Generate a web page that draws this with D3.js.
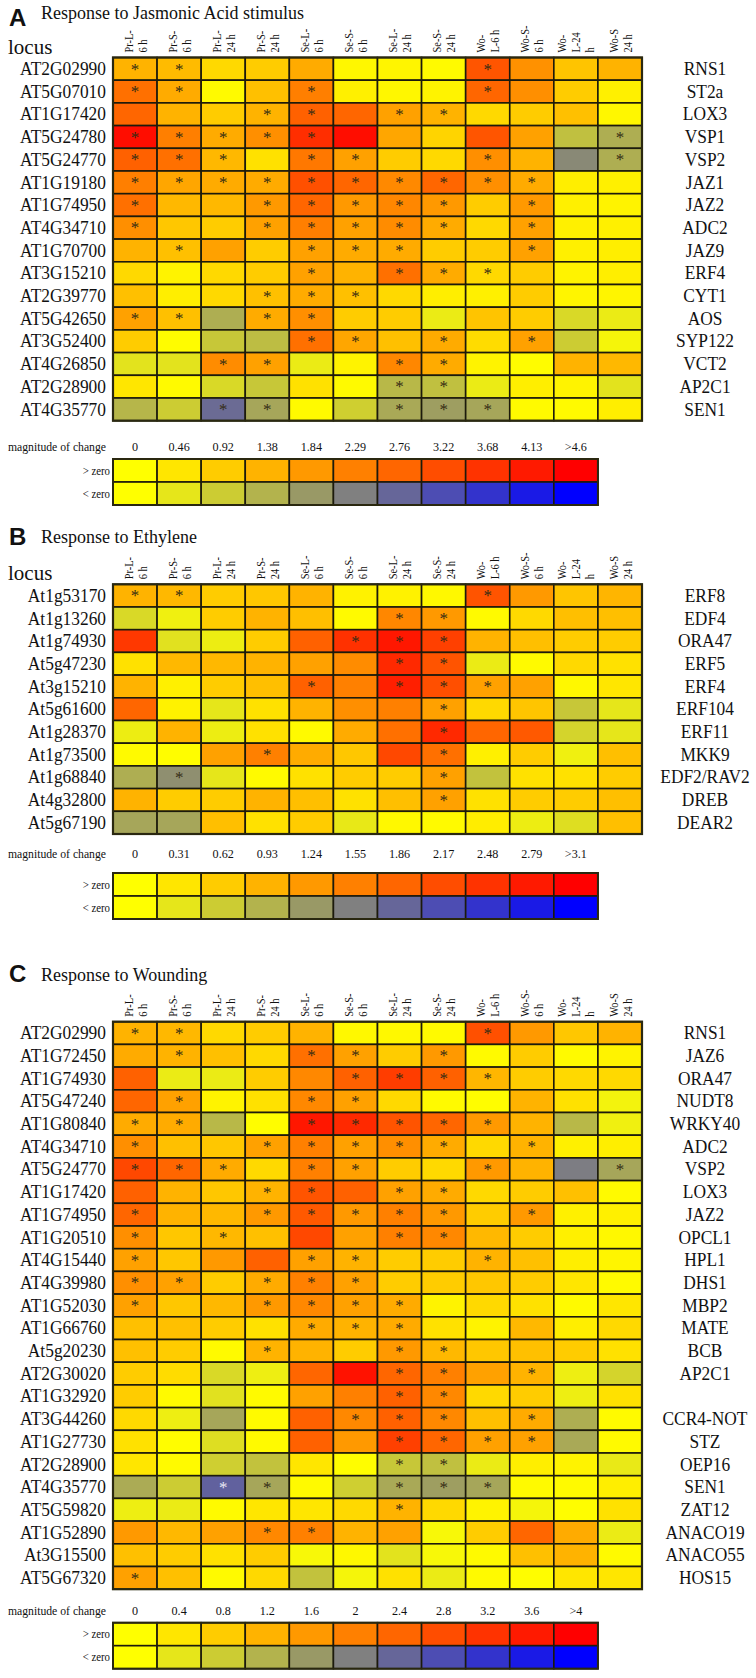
<!DOCTYPE html>
<html><head><meta charset="utf-8">
<script src="https://cdn.jsdelivr.net/npm/d3@7"></script>
<style>
body{margin:0;background:#fff}
svg{display:block}
text{font-family:"Liberation Serif","Times New Roman",serif;fill:#111}
</style>
</head><body>
<svg id="chart" width="756" height="1678"></svg>
<script>
// ---------- shared ----------
const conditions = ["Pr-L-|6 h","Pr-S-|6 h","Pr-L-|24 h","Pr-S-|24 h","Se-L-|6 h","Se-S-|6 h","Se-L-|24 h","Se-S-|24 h","Wo-|L-6 h","Wo-S-|6 h","Wo-|L-24|h","Wo-S|24 h"];
const posColors = ["#ffff00","#ffe600","#ffcc00","#ffb300","#ff9900","#ff8000","#ff6600","#ff4d00","#ff3300","#ff1a00","#ff0000"];
const negColors = ["#ffff00","#e6e61a","#cccc33","#b3b34d","#999966","#808080","#666699","#4d4db3","#3333cc","#1a1ae6","#0000ff"];

// ---------- A: Jasmonic acid ----------
const jaLoci = ["AT2G02990","AT5G07010","AT1G17420","AT5G24780","AT5G24770","AT1G19180","AT1G74950","AT4G34710","AT1G70700","AT3G15210","AT2G39770","AT5G42650","AT3G52400","AT4G26850","AT2G28900","AT4G35770"];
const jaGenes = ["RNS1","ST2a","LOX3","VSP1","VSP2","JAZ1","JAZ2","ADC2","JAZ9","ERF4","CYT1","AOS","SYP122","VCT2","AP2C1","SEN1"];
const jaValues = [
 [1.38,1.24,0.69,0.92,1.52,0.14,0.18,0.09,3.08,1.98,1.06,1.38],
 [2.58,1.52,0.09,1.15,2.30,0.28,0.14,0.23,2.76,2.02,0.92,0.28],
 [2.76,1.38,0.92,1.38,2.85,2.76,1.70,1.38,0.69,0.92,1.15,0.14],
 [4.37,2.30,1.52,2.02,3.77,4.37,1.61,0.78,3.08,1.70,-1.15,-1.47],
 [2.85,2.58,1.29,0.55,2.44,1.70,0.92,0.69,2.02,1.38,-2.12,-1.47],
 [2.30,1.61,1.52,1.52,3.17,2.76,2.12,2.76,2.02,1.52,0.32,0.28],
 [2.58,1.29,1.29,1.84,2.76,1.84,2.16,1.84,0.92,1.84,0.28,0.23],
 [2.02,1.01,0.92,1.70,2.30,1.70,2.07,1.52,0.69,1.70,0.28,0.28],
 [1.38,1.15,1.70,0.92,1.70,1.52,1.52,0.92,0.92,1.70,0.28,0.32],
 [0.69,0.23,0.69,0.92,1.70,1.38,2.58,1.52,0.69,0.92,0.23,0.32],
 [1.15,0.32,0.69,1.15,1.52,1.15,0.69,0.32,0.28,0.92,0.18,0.18],
 [1.70,1.15,-1.47,1.52,2.02,0.92,0.92,-0.37,1.06,0.92,-0.69,-0.37],
 [0.92,0.05,-1.01,-1.20,2.58,1.61,1.15,1.52,0.64,1.70,-0.92,-0.18],
 [-0.51,-0.51,2.07,1.70,-0.37,0.23,2.16,1.52,0.23,0.05,1.38,1.29],
 [0.46,0.09,-0.69,-1.01,0.55,0.09,-1.29,-1.15,-0.37,0.32,0.23,-0.51],
 [-1.33,-0.92,-2.67,-1.61,0.09,-0.87,-1.56,-1.75,-1.61,0.09,0.09,0.32]
];
const jaStars = [[1,2,9],[1,2,5,9],[4,5,7,8],[1,2,3,4,5,12],[1,2,3,5,6,9,12],[1,2,3,4,5,6,7,8,9,10],[1,4,5,6,7,8,10],[1,4,5,6,7,8,10],[2,5,6,7,10],[5,7,8,9],[4,5,6],[1,2,4,5],[5,6,8,10],[3,4,7,8],[7,8],[3,4,7,8,9]];
const jaTickValues = [0,0.46,0.92,1.38,1.84,2.29,2.76,3.22,3.68,4.13,4.6];
const jaTickLabels = ["0","0.46","0.92","1.38","1.84","2.29","2.76","3.22","3.68","4.13",">4.6"];

// ---------- B: Ethylene ----------
const etLoci = ["At1g53170","At1g13260","At1g74930","At5g47230","At3g15210","At5g61600","At1g28370","At1g73500","At1g68840","At4g32800","At5g67190"];
const etGenes = ["ERF8","EDF4","ORA47","ERF5","ERF4","ERF104","ERF11","MKK9","EDF2/RAV2","DREB","DEAR2"];
const etValues = [
 [0.93,0.87,0.62,0.68,0.93,0.16,0.16,0.09,2.08,1.24,0.71,0.90],
 [-0.47,-0.19,0.62,0.93,0.78,0.06,1.46,1.24,0.06,0.47,0.78,0.78],
 [2.42,-0.37,-0.22,0.62,1.92,2.51,2.82,2.33,0.93,0.78,0.62,0.62],
 [0.37,0.87,0.87,0.93,1.15,1.40,2.60,2.08,-0.25,0.06,0.47,0.37],
 [0.93,0.19,0.62,0.78,1.92,1.55,2.73,2.14,1.15,1.15,0.09,0.31],
 [1.86,0.16,-0.31,0.37,0.93,1.36,1.55,1.15,0.47,0.71,-0.68,-0.31],
 [-0.22,0.93,-0.22,0.37,0.06,1.02,1.74,2.60,1.86,2.02,-0.53,-0.31],
 [0.06,0.03,1.15,1.55,1.02,0.68,2.23,1.74,0.19,0.62,-0.19,0.78],
 [-0.99,-1.36,-0.31,0.06,0.37,0.62,0.62,1.15,-0.74,0.37,0.37,0.62],
 [0.93,0.62,0.62,0.93,0.78,0.37,0.78,1.15,0.37,0.62,0.62,0.78],
 [-1.09,-1.09,0.78,0.37,0.62,-0.28,0.09,0.06,0.22,-0.22,-0.40,0.78]
];
const etStars = [[1,2,9],[7,8],[6,7,8],[7,8],[5,7,8,9],[8],[8],[4,8],[2,8],[8],[]];
const etTickValues = [0,0.31,0.62,0.93,1.24,1.55,1.86,2.17,2.48,2.79,3.1];
const etTickLabels = ["0","0.31","0.62","0.93","1.24","1.55","1.86","2.17","2.48","2.79",">3.1"];

// ---------- C: Wounding ----------
const woLoci = ["AT2G02990","AT1G72450","AT1G74930","AT5G47240","AT1G80840","AT4G34710","AT5G24770","AT1G17420","AT1G74950","AT1G20510","AT4G15440","AT4G39980","AT1G52030","AT1G66760","At5g20230","AT2G30020","AT1G32920","AT3G44260","AT1G27730","AT2G28900","AT4G35770","AT5G59820","AT1G52890","At3G15500","AT5G67320"];
const woGenes = ["RNS1","JAZ6","ORA47","NUDT8","WRKY40","ADC2","VSP2","LOX3","JAZ2","OPCL1","HPL1","DHS1","MBP2","MATE","BCB","AP2C1","","CCR4-NOT","STZ","OEP16","SEN1","ZAT12","ANACO19","ANACO55","HOS15"];
const woValues = [
 [1.20,1.12,0.60,0.80,1.20,0.12,0.12,0.08,2.76,1.60,0.88,1.20],
 [1.32,1.20,1.00,0.60,2.24,1.48,0.80,1.60,0.08,0.80,0.08,0.20],
 [2.48,-0.32,-0.32,0.80,1.88,2.48,3.04,2.48,1.16,0.80,0.60,0.60],
 [2.40,1.48,0.20,0.48,1.88,1.48,0.60,0.08,0.04,1.20,0.48,-0.20],
 [1.32,1.32,-1.12,0.04,3.64,3.36,2.68,2.40,1.60,1.20,-1.12,-0.24],
 [1.76,1.00,0.88,1.48,2.00,1.48,1.76,1.32,0.60,1.20,0.24,0.28],
 [2.88,2.40,1.32,0.60,2.00,1.48,0.80,0.60,1.60,1.20,-2.04,-1.40],
 [2.48,1.20,0.88,1.20,2.68,2.48,1.48,1.32,0.60,0.80,1.00,0.08],
 [2.40,1.20,1.12,1.60,2.60,1.60,2.00,1.60,0.80,1.60,0.24,0.24],
 [1.76,0.88,1.12,1.00,2.88,1.48,2.00,1.88,1.12,0.80,0.24,0.12],
 [1.48,0.88,1.60,2.48,1.48,1.20,0.80,0.80,1.20,1.00,0.28,0.16],
 [1.76,1.48,0.80,1.32,2.00,1.48,0.80,0.80,0.88,0.80,0.40,0.08],
 [1.48,0.88,1.12,1.60,1.88,1.48,1.32,0.20,0.60,0.48,0.08,0.40],
 [1.00,1.00,0.80,0.48,1.32,1.20,1.32,0.48,0.20,1.12,0.28,0.60],
 [1.00,0.80,0.08,1.20,1.20,0.80,1.60,1.12,0.88,1.00,0.80,0.48],
 [0.80,0.56,-0.60,-0.28,2.40,3.72,2.40,2.00,1.48,1.20,-0.28,-0.68],
 [0.80,0.08,-0.48,0.08,1.48,2.00,2.48,1.88,0.60,0.80,-0.28,0.48],
 [0.60,-0.28,-1.40,0.08,2.48,1.88,2.48,1.88,1.00,1.32,-1.28,0.08],
 [0.48,0.04,-0.52,0.08,2.48,1.60,3.00,2.40,1.48,1.48,-1.36,0.08],
 [0.40,0.08,-0.76,-0.96,0.40,0.04,-0.88,-1.00,-0.32,0.28,0.20,-0.36],
 [-1.32,-0.80,-2.48,-1.40,0.08,-0.76,-1.36,-1.52,-1.40,0.08,0.08,0.28],
 [-0.28,-0.32,0.08,0.40,0.40,0.60,1.20,0.60,0.20,-0.16,0.04,0.48],
 [1.60,1.12,1.48,1.88,2.00,1.20,1.48,-0.12,0.80,2.40,1.32,-0.32],
 [1.00,0.80,0.48,0.80,-0.12,0.12,-0.44,-0.12,0.08,1.00,1.20,0.08],
 [1.48,1.00,0.08,0.60,-0.96,-0.16,0.48,-0.32,0.08,0.04,0.40,0.40]
];
const woStars = [[1,2,9],[2,5,6,8],[6,7,8,9],[2,5,6],[1,2,5,6,7,8,9],[1,4,5,6,7,8,10],[1,2,3,5,6,9,12],[4,5,7,8],[1,4,5,6,7,8,10],[1,3,7,8],[1,5,6,9],[1,2,4,5,6],[1,4,5,6,7],[5,6,7],[4,7,8],[7,8,10],[7,8],[6,7,8,10],[7,8,9,10],[7,8],[3,4,7,8,9],[7],[4,5],[],[1]];
const woLightStars = [[21,3]];
const woTickValues = [0,0.4,0.8,1.2,1.6,2,2.4,2.8,3.2,3.6,4];
const woTickLabels = ["0","0.4","0.8","1.2","1.6","2","2.4","2.8","3.2","3.6",">4"];

// ---------- drawing ----------
const svg = d3.select("#chart");
const ROW_H = 22.7;
const x = d3.scaleBand().domain(d3.range(conditions.length)).range([113, 642]);
const bw = x.bandwidth();

function drawPanel(p){
  const g = svg.append("g");
  const posScale = d3.scaleLinear().domain(p.tickValues).range(posColors).clamp(true);
  const negScale = d3.scaleLinear().domain(p.tickValues).range(negColors).clamp(true);
  const color = v => v >= 0 ? posScale(v) : negScale(-v);
  const y = d3.scaleBand().domain(d3.range(p.loci.length))
    .range([p.gridTop, p.gridTop + p.loci.length*ROW_H]);

  g.append("text").attr("x",9).attr("y",p.letterY)
    .style("font-family","'Liberation Sans',Arial,sans-serif").style("font-weight","bold")
    .attr("font-size",24).text(p.letter);
  g.append("text").attr("x",41).attr("y",p.titleY).attr("font-size",18).text(p.title);
  if (p.locus) g.append("text").attr("x",8).attr("y",p.gridTop-4).attr("font-size",21).text("locus");

  // column headers
  conditions.forEach((c,j)=>{
    const lines = c.split("|");
    const cx = x(j)+bw/2;
    lines.forEach((ln,k)=>{
      const lx = cx + (k-(lines.length-1)/2)*14;
      g.append("text")
        .attr("transform",`translate(${lx},${p.gridTop-5}) rotate(-90) scale(0.8,1)`)
        .attr("dy","0.35em").attr("font-size",13).text(ln);
    });
  });

  // cells
  p.values.forEach((row,i)=>{
    row.forEach((v,j)=>{
      g.append("rect").attr("x",x(j)).attr("y",y(i)).attr("width",bw).attr("height",y.bandwidth())
        .attr("fill",color(v)).attr("stroke","#1c1a0c").attr("stroke-width",1.6);
    });
  });
  g.append("rect").attr("x",x(0)).attr("y",p.gridTop).attr("width",bw*conditions.length)
    .attr("height",y.bandwidth()*p.loci.length).attr("fill","none")
    .attr("stroke","#2a2810").attr("stroke-width",2.2);

  // stars
  p.stars.forEach((cols,i)=>{
    cols.forEach(c=>{
      const light = (p.light||[]).some(d=>d[0]===i+1 && d[1]===c);
      g.append("text").attr("x",x(c-1)+bw/2).attr("y",y(i)+17)
        .attr("text-anchor","middle").attr("font-size",17)
        .style("fill", light ? "#e8e8f4" : "#352c14").text("*");
    });
  });

  // row labels
  p.loci.forEach((l,i)=>{
    g.append("text").attr("transform",`translate(106,${y(i)+y.bandwidth()/2+6.2}) scale(0.94,1)`)
      .attr("text-anchor","end").attr("font-size",18.5).text(l);
  });
  p.genes.forEach((gn,i)=>{
    if(!gn) return;
    g.append("text").attr("transform",`translate(705,${y(i)+y.bandwidth()/2+6.2}) scale(0.94,1)`)
      .attr("text-anchor","middle").attr("font-size",18.5).text(gn);
  });

  // legend
  const lt = p.legendTop, lh = 23;
  g.append("text").attr("transform",`translate(106,${p.tickY}) scale(0.9,1)`)
    .attr("text-anchor","end").attr("font-size",13).text("magnitude of change");
  p.tickLabels.forEach((t,i)=>{
    g.append("text").attr("transform",`translate(${x(i)+bw/2},${p.tickY}) scale(0.9,1)`)
      .attr("text-anchor","middle").attr("font-size",13.5).text(t);
  });
  p.tickValues.forEach((v,i)=>{
    g.append("rect").attr("x",x(i)).attr("y",lt).attr("width",bw).attr("height",lh)
      .attr("fill",posScale(v)).attr("stroke","#1c1a0c").attr("stroke-width",1.6);
    g.append("rect").attr("x",x(i)).attr("y",lt+lh).attr("width",bw).attr("height",lh)
      .attr("fill",negScale(v)).attr("stroke","#1c1a0c").attr("stroke-width",1.6);
  });
  g.append("rect").attr("x",x(0)).attr("y",lt).attr("width",bw*p.tickValues.length).attr("height",2*lh)
    .attr("fill","none").attr("stroke","#2a2810").attr("stroke-width",2);
  g.append("text").attr("transform",`translate(110,${lt+lh/2+4}) scale(0.9,1)`)
    .attr("text-anchor","end").attr("font-size",12).text("> zero");
  g.append("text").attr("transform",`translate(110,${lt+lh*1.5+4}) scale(0.9,1)`)
    .attr("text-anchor","end").attr("font-size",12).text("< zero");
}

drawPanel({letter:"A",title:"Response to Jasmonic Acid stimulus",letterY:26,titleY:19,locus:true,
  gridTop:57.5,loci:jaLoci,genes:jaGenes,values:jaValues,stars:jaStars,
  tickValues:jaTickValues,tickLabels:jaTickLabels,tickY:451,legendTop:459});
drawPanel({letter:"B",title:"Response to Ethylene",letterY:545,titleY:543,locus:true,
  gridTop:584.3,loci:etLoci,genes:etGenes,values:etValues,stars:etStars,
  tickValues:etTickValues,tickLabels:etTickLabels,tickY:858,legendTop:873});
drawPanel({letter:"C",title:"Response to Wounding",letterY:982,titleY:981,locus:false,
  gridTop:1021.7,loci:woLoci,genes:woGenes,values:woValues,stars:woStars,light:woLightStars,
  tickValues:woTickValues,tickLabels:woTickLabels,tickY:1615,legendTop:1622.7});
</script>
</body></html>
